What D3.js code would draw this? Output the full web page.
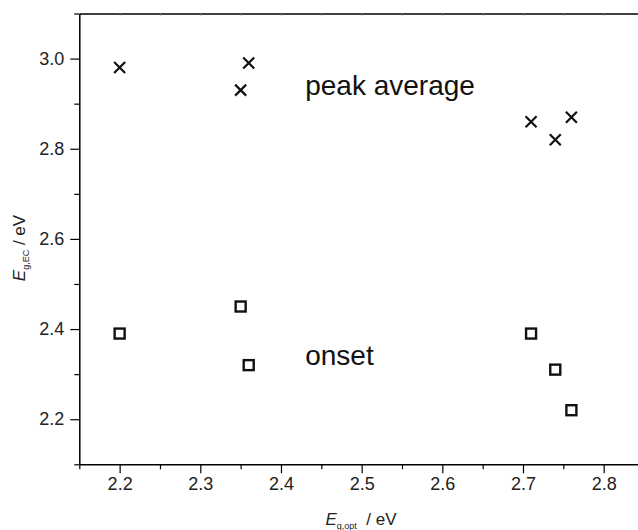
<!DOCTYPE html>
<html>
<head>
<meta charset="utf-8">
<script src="https://cdn.jsdelivr.net/npm/d3@7"></script>
<style>
body { margin: 0; background: #fff; }
svg { display: block; font-family: "Liberation Sans", Arial, sans-serif; }
</style>
</head>
<body>
<div id="wrapper"></div>
<script>
const peakX = [2.20, 2.35, 2.36, 2.71, 2.74, 2.76];
const peakY = [2.98, 2.93, 2.99, 2.86, 2.82, 2.87];
const onsetX = [2.20, 2.35, 2.36, 2.71, 2.74, 2.76];
const onsetY = [2.39, 2.45, 2.32, 2.39, 2.31, 2.22];

const xTicks = [2.2, 2.3, 2.4, 2.5, 2.6, 2.7, 2.8];
const xMinorTicks = [2.15, 2.25, 2.35, 2.45, 2.55, 2.65, 2.75, 2.85];
const topTicks = [2.2, 2.25, 2.3, 2.35, 2.4, 2.45, 2.5, 2.55, 2.6, 2.65, 2.7, 2.75, 2.8];
const yTicks = [2.2, 2.4, 2.6, 2.8, 3.0];
const yMinorTicks = [2.1, 2.3, 2.5, 2.7, 2.9, 3.1];

const annotations = [
	{text: "peak average", x: 2.43, y: 2.92},
	{text: "onset", x: 2.43, y: 2.32}
];

function drawChart() {
	let dimensions = {
		width: 638,
		height: 530,
		margin: {
			top: 13.5,
			right: -6,
			bottom: 65.7,
			left: 79.3
		}
	};
	dimensions.boundedWidth = dimensions.width - dimensions.margin.left - dimensions.margin.right;
	dimensions.boundedHeight = dimensions.height - dimensions.margin.top - dimensions.margin.bottom;

	const svg = d3.select("#wrapper").append("svg")
		.attr("width", dimensions.width)
		.attr("height", dimensions.height);

	const bounds = svg.append("g")
		.attr("transform", `translate(${dimensions.margin.left}, ${dimensions.margin.top})`);

	const xScale = d3.scaleLinear()
		.domain([2.15, 2.85])
		.range([0, dimensions.boundedWidth]);

	const yScale = d3.scaleLinear()
		.domain([2.1, 3.1])
		.range([dimensions.boundedHeight, 0]);

	// minor ticks first, no labels
	bounds.append("g")
		.attr("transform", `translate(0, ${dimensions.boundedHeight})`)
		.call(d3.axisBottom(xScale).tickValues(xMinorTicks).tickSize(5).tickFormat(""))
		.call(g => g.select(".domain").remove());

	bounds.append("g")
		.call(d3.axisLeft(yScale).tickValues(yMinorTicks).tickSize(5).tickFormat(""))
		.call(g => g.select(".domain").remove());

	const xAxis = bounds.append("g")
		.attr("transform", `translate(0, ${dimensions.boundedHeight})`)
		.call(d3.axisBottom(xScale).tickValues(xTicks).tickSize(9).tickSizeOuter(0).tickPadding(4).tickFormat(d3.format(".1f")));

	const yAxis = bounds.append("g")
		.call(d3.axisLeft(yScale).tickValues(yTicks).tickSize(9).tickSizeOuter(0).tickPadding(6).tickFormat(d3.format(".1f")));

	const topAxis = bounds.append("g")
		.call(d3.axisTop(xScale).tickValues(topTicks).tickSize(-2).tickSizeOuter(0).tickFormat(""));
	topAxis.selectAll(".tick line").attr("stroke", "#777");

	[xAxis, yAxis, topAxis].forEach(a => {
		a.select(".domain").attr("stroke-width", 1.5);
		a.selectAll("text").attr("font-size", 18).attr("fill", "#222");
	});
	bounds.selectAll(".tick line").attr("stroke-width", 1.2);
	topAxis.selectAll(".tick line").attr("stroke-width", 1);

	const peaks = peakX.map((x, i) => ({x: x, y: peakY[i]}));
	const onsets = onsetX.map((x, i) => ({x: x, y: onsetY[i]}));

	bounds.selectAll(".cross")
		.data(peaks)
		.join("path")
		.attr("class", "cross")
		.attr("transform", d => `translate(${xScale(d.x)}, ${yScale(d.y)})`)
		.attr("d", "M-5.5,-5.5L5.5,5.5M-5.5,5.5L5.5,-5.5")
		.attr("stroke", "#111")
		.attr("stroke-width", 2.2)
		.attr("fill", "none");

	bounds.selectAll(".square")
		.data(onsets)
		.join("rect")
		.attr("class", "square")
		.attr("x", d => xScale(d.x) - 5)
		.attr("y", d => yScale(d.y) - 5)
		.attr("width", 10)
		.attr("height", 10)
		.attr("stroke", "#111")
		.attr("stroke-width", 2.4)
		.attr("fill", "none");

	bounds.selectAll(".note")
		.data(annotations)
		.join("text")
		.attr("class", "note")
		.attr("x", d => xScale(d.x))
		.attr("y", d => yScale(d.y))
		.attr("font-size", 28)
		.attr("fill", "#111")
		.text(d => d.text);

	const xLabel = svg.append("text")
		.attr("x", 361)
		.attr("y", 525)
		.attr("text-anchor", "middle")
		.attr("font-size", 17)
		.attr("fill", "#222");
	xLabel.append("tspan").attr("font-style", "italic").text("E");
	xLabel.append("tspan").attr("font-size", 9).attr("dy", 4).text("g,opt");
	xLabel.append("tspan").attr("dy", -4).attr("xml:space", "preserve").text("\u00a0\u00a0/ eV");

	const yLabel = svg.append("text")
		.attr("transform", "translate(25, 248) rotate(-90)")
		.attr("text-anchor", "middle")
		.attr("font-size", 17)
		.attr("fill", "#222");
	yLabel.append("tspan").attr("font-style", "italic").text("E");
	yLabel.append("tspan").attr("font-size", 9).attr("dy", 4).text("g,EC");
	yLabel.append("tspan").attr("dy", -4).text(" / eV");
}

drawChart();
</script>
</body>
</html>
